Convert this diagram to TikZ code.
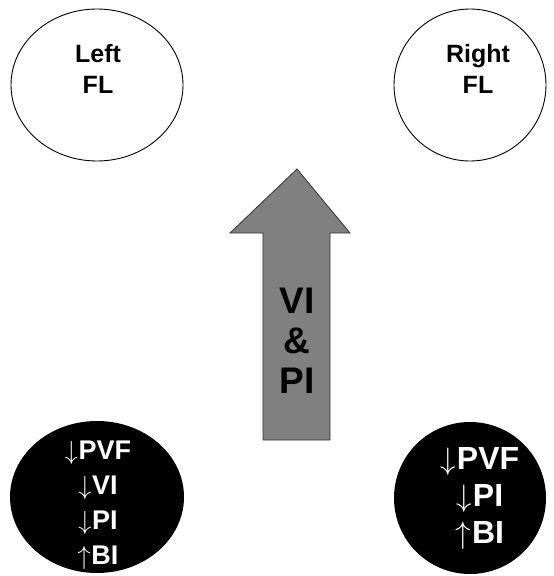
\documentclass[tikz,border=0pt]{standalone}
\usepackage{graphicx}
\usepackage{fontspec}
\setmainfont{Liberation Sans}
\usetikzlibrary{shapes.geometric}

\tikzset{
  lobe/.style={draw=black, line width=0.9pt, ellipse, inner sep=0pt},
  dark/.style={fill=black, ellipse, inner sep=0pt},
  lbl/.style={font=\fontsize{25}{31}\selectfont\bfseries, align=center},
  wlbl/.style={text=white, align=center},
}
\newcommand{\dn}{\resizebox*{!}{0.86em}{$\downarrow$}\kern0.02em}
\newcommand{\up}{\resizebox*{!}{0.86em}{$\uparrow$}\kern0.02em}

\begin{document}
\begin{tikzpicture}[x=1pt, y=-1pt]
    \useasboundingbox (0,0) rectangle (554,576);

    % Upper lobes
    \node[lobe, minimum width=172pt, minimum height=152pt] (leftfl) at (97,85) {};
    \node[lobe, minimum width=152pt, minimum height=152pt] (rightfl) at (470,85) {};
    \node[lbl] (lefttxt) at (98,69) {Left\\FL};
    \node[lbl] (righttxt) at (478,69) {Right\\FL};

    % Big arrow
    \draw[fill=gray!100!white, draw=black!80, line width=0.8pt]
        (297,169) -- (350,233) -- (330,233) -- (330,440) -- (263,440)
        -- (263,233) -- (230,233) -- cycle;
    \node[lbl, font=\fontsize{37}{40}\selectfont\bfseries] (arrowtxt) at (297,341) {VI\\\&\\PI};

    % Lower lobes
    \node[dark, minimum width=174pt, minimum height=152pt] (leftll) at (97,497) {};
    \node[dark, minimum width=152pt, minimum height=152pt] (rightll) at (470,498) {};
    \node[wlbl, font=\fontsize{27}{35}\selectfont\bfseries] (lefttxt2) at (98,505)
        {\dn PVF\\\dn VI\\\dn PI\\\up BI};
    \node[wlbl, font=\fontsize{32}{37}\selectfont\bfseries] (righttxt2) at (480,498)
        {\dn PVF\\\dn PI\\\up BI};
\end{tikzpicture}
\end{document}
